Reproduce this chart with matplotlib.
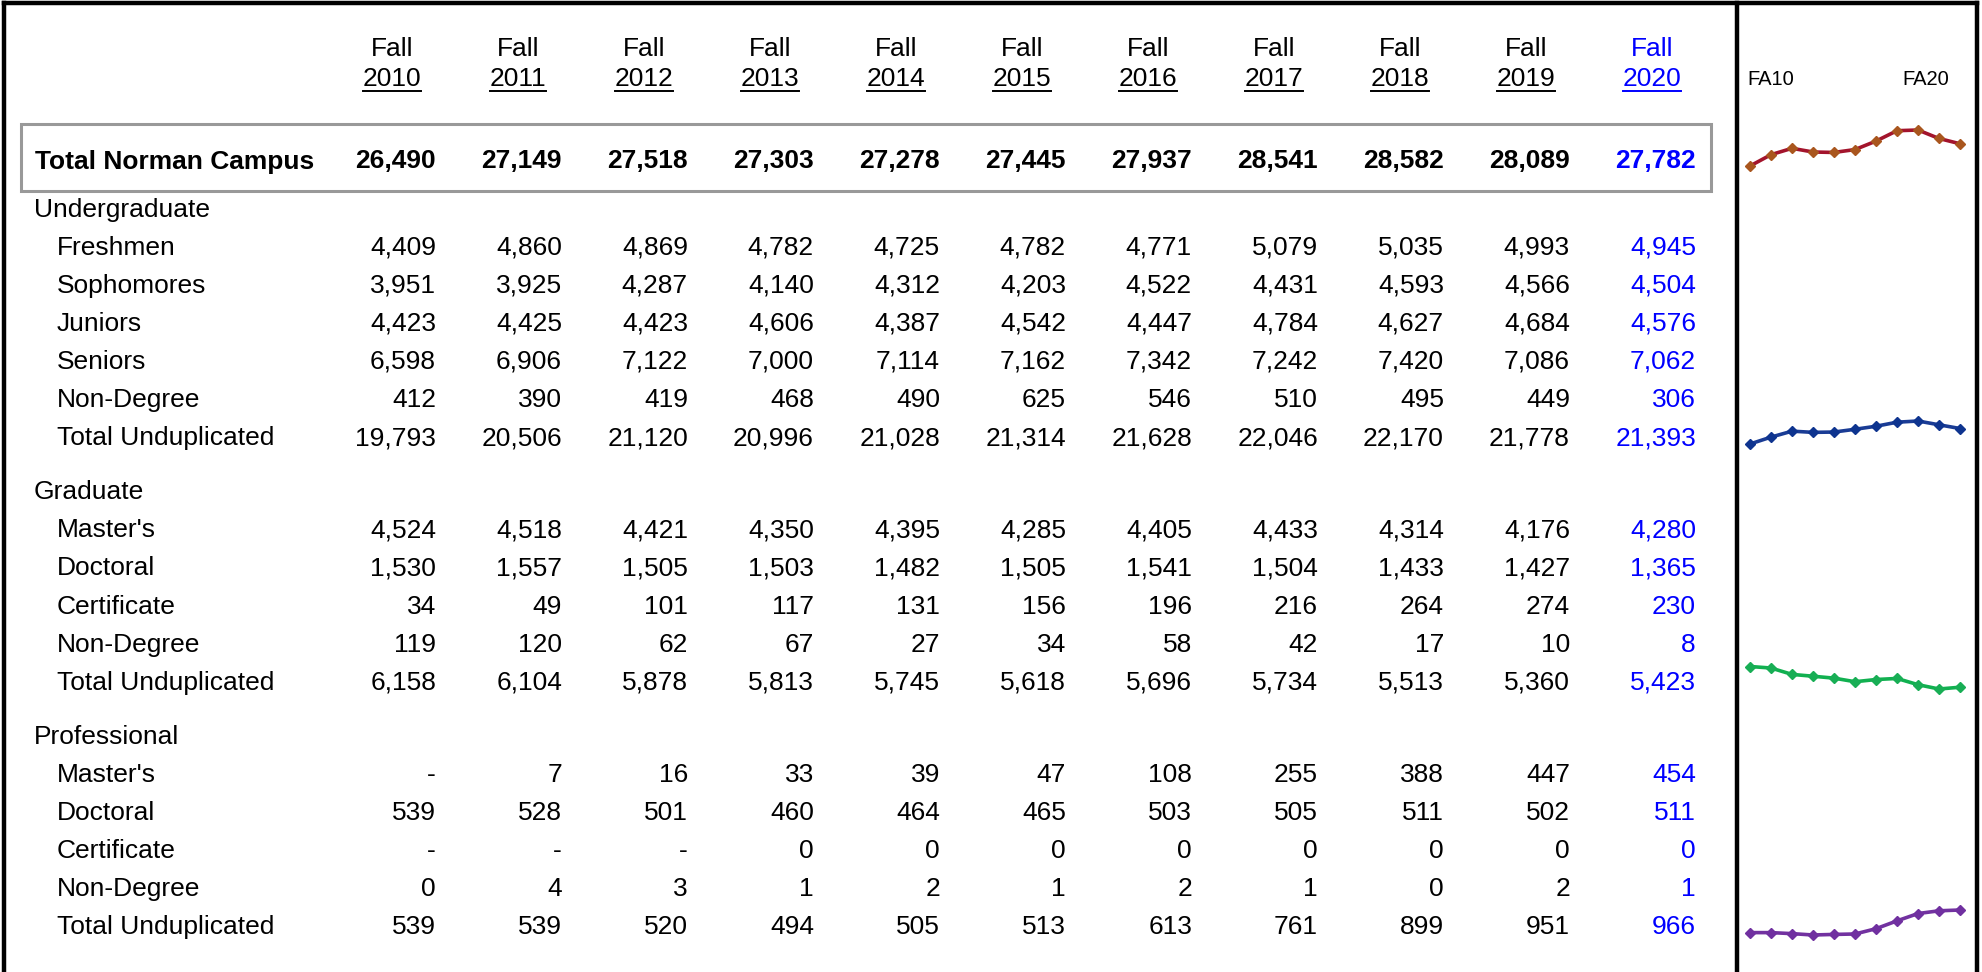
import matplotlib
matplotlib.use("Agg")
import matplotlib.pyplot as plt

plt.rcParams['font.family'] = ['Liberation Sans', 'DejaVu Sans']

# ---------------- data ----------------
years = [2010, 2011, 2012, 2013, 2014, 2015, 2016, 2017, 2018, 2019, 2020]
total_norman = [26490, 27149, 27518, 27303, 27278, 27445, 27937, 28541, 28582, 28089, 27782]

ug_freshmen = [4409, 4860, 4869, 4782, 4725, 4782, 4771, 5079, 5035, 4993, 4945]
ug_sophomores = [3951, 3925, 4287, 4140, 4312, 4203, 4522, 4431, 4593, 4566, 4504]
ug_juniors = [4423, 4425, 4423, 4606, 4387, 4542, 4447, 4784, 4627, 4684, 4576]
ug_seniors = [6598, 6906, 7122, 7000, 7114, 7162, 7342, 7242, 7420, 7086, 7062]
ug_nondegree = [412, 390, 419, 468, 490, 625, 546, 510, 495, 449, 306]
ug_total = [19793, 20506, 21120, 20996, 21028, 21314, 21628, 22046, 22170, 21778, 21393]

gr_masters = [4524, 4518, 4421, 4350, 4395, 4285, 4405, 4433, 4314, 4176, 4280]
gr_doctoral = [1530, 1557, 1505, 1503, 1482, 1505, 1541, 1504, 1433, 1427, 1365]
gr_certificate = [34, 49, 101, 117, 131, 156, 196, 216, 264, 274, 230]
gr_nondegree = [119, 120, 62, 67, 27, 34, 58, 42, 17, 10, 8]
gr_total = [6158, 6104, 5878, 5813, 5745, 5618, 5696, 5734, 5513, 5360, 5423]

pr_masters = [None, 7, 16, 33, 39, 47, 108, 255, 388, 447, 454]
pr_doctoral = [539, 528, 501, 460, 464, 465, 503, 505, 511, 502, 511]
pr_certificate = [None, None, None, 0, 0, 0, 0, 0, 0, 0, 0]
pr_nondegree = [0, 4, 3, 1, 2, 1, 2, 1, 0, 2, 1]
pr_total = [539, 539, 520, 494, 505, 513, 613, 761, 899, 951, 966]

spark_labels = ["FA10", "FA20"]

# rows: (label, values, kind)
rows = [
    ("Undergraduate", None, "section"),
    ("Freshmen", ug_freshmen, "item"),
    ("Sophomores", ug_sophomores, "item"),
    ("Juniors", ug_juniors, "item"),
    ("Seniors", ug_seniors, "item"),
    ("Non-Degree", ug_nondegree, "item"),
    ("Total Unduplicated", ug_total, "item"),
    ("Graduate", None, "section"),
    ("Master's", gr_masters, "item"),
    ("Doctoral", gr_doctoral, "item"),
    ("Certificate", gr_certificate, "item"),
    ("Non-Degree", gr_nondegree, "item"),
    ("Total Unduplicated", gr_total, "item"),
    ("Professional", None, "section"),
    ("Master's", pr_masters, "item"),
    ("Doctoral", pr_doctoral, "item"),
    ("Certificate", pr_certificate, "item"),
    ("Non-Degree", pr_nondegree, "item"),
    ("Total Unduplicated", pr_total, "item"),
]

# ---------------- layout ----------------
W, H = 1983, 972
fig = plt.figure(figsize=(W / 100, H / 100), dpi=100)
ax = fig.add_axes([0, 0, 1, 1])
ax.set_xlim(0, W)
ax.set_ylim(H, 0)
ax.axis('off')

FS = 19
DY = 2.5  # vertical text nudge
BLUE = '#0000FF'
col_right = [436 + 126 * i for i in range(len(years))]
col_center = [r - 44 for r in col_right]

def fmt(v):
    return "-" if v is None else f"{v:,}"

# outer frame
ax.plot([4, 4], [H, 3], color='black', lw=3.2, solid_capstyle='projecting')
ax.plot([4, 1977], [3, 3], color='black', lw=3.2, solid_capstyle='projecting')
ax.plot([1977, 1977], [3, H], color='black', lw=3.2, solid_capstyle='projecting')
ax.plot([1737, 1737], [3, H], color='black', lw=3.2, solid_capstyle='projecting')

# header
fig.canvas.draw()
renderer = fig.canvas.get_renderer()
inv = ax.transData.inverted()
for i, y in enumerate(years):
    c = BLUE if i == len(years) - 1 else 'black'
    ax.text(col_center[i], 47 + DY, "Fall", ha='center', va='center', fontsize=FS, color=c)
    t = ax.text(col_center[i], 77 + DY, str(y), ha='center', va='center', fontsize=FS, color=c)
    bb = t.get_window_extent(renderer=renderer)
    (x0, _), (x1, _) = inv.transform([(bb.x0, 0), (bb.x1, 0)])
    ax.plot([x0, x1], [91, 91], color=c, lw=1.4)

# total row box
ax.add_patch(plt.Rectangle((21, 124), 1711 - 21, 191 - 124, fill=False,
                           edgecolor='#999999', lw=2.2))
ty = 159 + DY
ax.text(35, ty, "Total Norman Campus", ha='left', va='center', fontsize=FS, fontweight='bold')
for i, v in enumerate(total_norman):
    c = BLUE if i == len(years) - 1 else 'black'
    ax.text(col_right[i], ty, fmt(v), ha='right', va='center', fontsize=FS,
            fontweight='bold', color=c)

# body rows
y = 207
pitch = 38.1
for k, (label, vals, kind) in enumerate(rows):
    if kind == "section" and k > 0:
        y += 16
    if kind == "section":
        ax.text(34, y + DY, label, ha='left', va='center', fontsize=FS)
    else:
        ax.text(57, y + DY, label, ha='left', va='center', fontsize=FS)
        for i, v in enumerate(vals):
            c = BLUE if i == len(years) - 1 else 'black'
            ax.text(col_right[i], y + DY, fmt(v), ha='right', va='center', fontsize=FS, color=c)
    y += pitch

# sparkline header labels
ax.text(1747, 77 + DY, spark_labels[0], ha='left', va='center', fontsize=14.5)
ax.text(1949, 77 + DY, spark_labels[1], ha='right', va='center', fontsize=14.5)

# sparklines: (data, pixel y of max, pixel y of min, line color, marker color)
sparks = [
    (total_norman, 130, 166, '#A3142C', '#A9561E'),
    (ug_total, 421, 444, '#1A3C95', '#0E348F'),
    (gr_total, 666.5, 689, '#11B050', '#18AE55'),
    (pr_total, 910, 935, '#7232A0', '#7030A0'),
]
SX0, SX1 = 1750, 1960
for data, ytop, ybot, lc, mc in sparks:
    sax = fig.add_axes([SX0 / W, 1 - ybot / H, (SX1 - SX0) / W, (ybot - ytop) / H])
    sax.set_xlim(0, len(data) - 1)
    sax.set_ylim(min(data), max(data))
    sax.axis('off')
    sax.plot(range(len(data)), data, color=lc, lw=2.6, marker='D', markersize=5.5,
             markerfacecolor=mc, markeredgecolor=mc, clip_on=False)

fig.savefig("out.png", dpi=100)
